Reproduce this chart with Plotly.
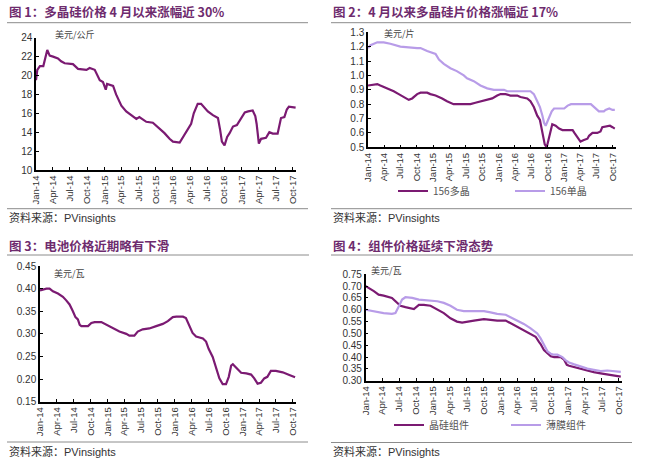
import plotly.graph_objects as go

W, H = 648, 473

# ---------------- data ----------------
p1_dates = ["2014-01-01", "2014-01-08", "2014-01-22", "2014-02-09", "2014-03-02", "2014-03-15",
            "2014-04-02", "2014-04-28", "2014-05-15", "2014-06-03", "2014-07-17", "2014-08-13",
            "2014-09-27", "2014-10-14", "2014-11-10", "2014-12-07", "2014-12-24", "2015-01-08",
            "2015-01-15", "2015-02-16", "2015-03-04", "2015-04-01", "2015-04-27", "2015-06-02",
            "2015-06-20", "2015-07-06", "2015-08-12", "2015-09-16", "2015-10-21", "2015-11-17",
            "2015-12-14", "2016-01-01", "2016-02-06", "2016-02-23", "2016-03-11", "2016-04-07",
            "2016-04-21", "2016-05-03", "2016-05-12", "2016-05-30", "2016-06-17", "2016-07-05",
            "2016-08-01", "2016-08-28", "2016-09-09", "2016-09-18", "2016-10-02", "2016-10-16",
            "2016-10-29", "2016-11-16", "2016-12-07", "2016-12-31", "2017-01-18", "2017-02-05",
            "2017-03-01", "2017-03-15", "2017-03-22", "2017-04-03", "2017-04-15", "2017-05-11",
            "2017-05-29", "2017-06-16", "2017-07-12", "2017-07-30", "2017-08-17", "2017-08-30",
            "2017-09-10", "2017-10-16"]
p1_vals = [19.5, 20.6, 21.0, 21.0, 22.7, 22.1,
           22.0, 21.8, 21.5, 21.3, 21.2, 20.7,
           20.6, 20.8, 20.6, 19.5, 19.3, 18.5,
           19.1, 18.9, 18.0, 16.8, 16.2, 15.6,
           15.4, 15.6, 15.1, 15.0, 14.4, 13.9,
           13.3, 13.0, 12.9, 13.5, 14.0, 14.9,
           16.0, 16.6, 17.0, 17.0, 16.6, 16.2,
           15.8, 15.5, 14.2, 13.0, 12.6, 13.5,
           13.9, 14.6, 14.75, 15.5, 16.1, 16.2,
           16.3, 15.7, 14.9, 12.8, 13.3, 13.4,
           14.0, 13.85, 13.85, 15.5, 15.6, 16.4,
           16.7, 16.6]

p2_mono_dates = ["2014-01-01", "2014-01-15", "2014-02-22", "2014-03-30", "2014-05-06", "2014-06-03",
                 "2014-07-01", "2014-10-03", "2014-10-22", "2014-11-28", "2015-01-14", "2015-02-02",
                 "2015-03-01", "2015-04-07", "2015-05-13", "2015-06-21", "2015-07-09", "2015-08-16",
                 "2015-09-22", "2015-10-30", "2015-12-06", "2016-02-01", "2016-02-19", "2016-06-28",
                 "2016-07-17", "2016-08-05", "2016-08-20", "2016-09-03", "2016-09-12", "2016-09-21",
                 "2016-10-10", "2016-10-25", "2016-11-07", "2017-01-03", "2017-01-22", "2017-02-10",
                 "2017-06-01", "2017-06-10", "2017-06-28", "2017-07-16", "2017-08-13", "2017-08-22",
                 "2017-09-12", "2017-09-30", "2017-10-13"]
p2_mono_vals = [1.19, 1.21, 1.23, 1.23, 1.22, 1.21,
                1.20, 1.19, 1.19, 1.17, 1.15, 1.11,
                1.08, 1.05, 1.03, 1.00, 0.98, 0.96,
                0.93, 0.91, 0.90, 0.90, 0.89, 0.89,
                0.87, 0.82, 0.78, 0.72, 0.67, 0.65,
                0.70, 0.75, 0.77, 0.77, 0.79, 0.80,
                0.80, 0.79, 0.77, 0.75, 0.75, 0.76,
                0.77, 0.76, 0.76]

p2_multi_dates = ["2014-01-01", "2014-02-04", "2014-02-22", "2014-03-11", "2014-04-18", "2014-05-25",
                  "2014-06-22", "2014-07-19", "2014-08-17", "2014-09-05", "2014-10-03", "2014-10-22",
                  "2014-11-28", "2014-12-16", "2015-01-14", "2015-02-20", "2015-03-19", "2015-04-25",
                  "2015-07-28", "2015-08-25", "2015-09-22", "2015-10-30", "2015-11-27", "2015-12-25",
                  "2016-01-13", "2016-02-10", "2016-03-08", "2016-04-15", "2016-05-03", "2016-06-10",
                  "2016-06-28", "2016-07-17", "2016-08-05", "2016-08-20", "2016-09-03", "2016-09-16",
                  "2016-09-27", "2016-10-13", "2016-10-28", "2016-11-16", "2016-12-05", "2016-12-24",
                  "2017-02-19", "2017-03-01", "2017-03-16", "2017-04-04", "2017-04-23", "2017-05-13",
                  "2017-05-22", "2017-06-10", "2017-07-07", "2017-07-25", "2017-08-04", "2017-09-01",
                  "2017-09-16", "2017-09-30", "2017-10-13"]
p2_multi_vals = [0.93, 0.94, 0.94, 0.93, 0.91, 0.89,
                 0.87, 0.85, 0.83, 0.84, 0.87, 0.88,
                 0.88, 0.87, 0.86, 0.84, 0.82, 0.80,
                 0.80, 0.81, 0.82, 0.83, 0.84, 0.86,
                 0.87, 0.87, 0.86, 0.86, 0.85, 0.84,
                 0.82, 0.78, 0.72, 0.69, 0.60, 0.52,
                 0.50, 0.58, 0.66, 0.65, 0.63, 0.62,
                 0.62, 0.60, 0.57, 0.54, 0.55, 0.56,
                 0.58, 0.60, 0.60, 0.61, 0.64, 0.65,
                 0.65, 0.64, 0.63]

p3_dates = ["2014-01-01", "2014-01-18", "2014-02-05", "2014-02-22", "2014-03-12", "2014-04-08",
            "2014-05-05", "2014-05-23", "2014-06-10", "2014-06-28", "2014-07-12", "2014-07-25",
            "2014-08-04", "2014-08-13", "2014-09-18", "2014-10-06", "2014-10-24", "2014-11-29",
            "2014-12-26", "2015-02-01", "2015-03-07", "2015-04-13", "2015-04-30", "2015-05-27",
            "2015-06-14", "2015-07-11", "2015-08-16", "2015-09-22", "2015-10-28", "2015-11-24",
            "2015-12-21", "2016-01-09", "2016-02-14", "2016-03-01", "2016-03-19", "2016-04-06",
            "2016-04-25", "2016-06-01", "2016-06-18", "2016-07-02", "2016-07-24", "2016-08-11",
            "2016-08-29", "2016-09-16", "2016-10-04", "2016-10-19", "2016-11-01", "2016-11-10",
            "2016-12-01", "2016-12-25", "2017-01-22", "2017-02-17", "2017-03-06", "2017-03-24",
            "2017-04-11", "2017-04-29", "2017-05-16", "2017-06-04", "2017-07-01", "2017-08-07",
            "2017-09-12", "2017-10-13"]
p3_vals = [0.396, 0.398, 0.400, 0.400, 0.394, 0.389,
           0.382, 0.374, 0.365, 0.350, 0.337, 0.332,
           0.320, 0.317, 0.317, 0.324, 0.326, 0.326,
           0.320, 0.312, 0.305, 0.300, 0.296, 0.296,
           0.305, 0.310, 0.312, 0.317, 0.322, 0.328,
           0.337, 0.338, 0.338, 0.335, 0.320, 0.302,
           0.294, 0.290, 0.283, 0.267, 0.249, 0.223,
           0.2015, 0.189, 0.189, 0.205, 0.230, 0.233,
           0.223, 0.214, 0.2125, 0.210, 0.2015, 0.190,
           0.192, 0.2015, 0.205, 0.218, 0.218, 0.215,
           0.209, 0.204]

p4_csi_dates = ["2014-01-01", "2014-01-18", "2014-02-14", "2014-03-12", "2014-04-08", "2014-05-23",
                "2014-06-11", "2014-07-08", "2014-08-04", "2014-09-19", "2014-10-16", "2014-11-12",
                "2014-12-18", "2015-01-24", "2015-02-28", "2015-04-05", "2015-05-10", "2015-06-07",
                "2015-07-04", "2015-08-10", "2015-10-03", "2015-11-08", "2015-12-14", "2016-01-29",
                "2016-02-25", "2016-04-01", "2016-05-06", "2016-06-12", "2016-07-09", "2016-07-27",
                "2016-08-05", "2016-08-23", "2016-09-11", "2016-09-29", "2016-10-17", "2016-11-04",
                "2016-11-22", "2016-12-10", "2016-12-25", "2017-01-06", "2017-02-03", "2017-03-09",
                "2017-04-15", "2017-05-20", "2017-06-26", "2017-08-01", "2017-09-07", "2017-10-13"]
p4_csi_vals = [0.700, 0.693, 0.679, 0.664, 0.660, 0.650,
               0.636, 0.617, 0.611, 0.603, 0.621, 0.621,
               0.617, 0.600, 0.586, 0.564, 0.550, 0.546,
               0.550, 0.554, 0.560, 0.557, 0.554, 0.554,
               0.543, 0.526, 0.514, 0.500, 0.486, 0.464,
               0.455, 0.430, 0.417, 0.403, 0.400, 0.400,
               0.400, 0.389, 0.367, 0.363, 0.357, 0.349,
               0.341, 0.336, 0.331, 0.327, 0.323, 0.317]

p4_tf_dates = ["2014-01-01", "2014-01-27", "2014-03-03", "2014-04-08", "2014-05-23", "2014-06-11",
               "2014-06-29", "2014-07-17", "2014-08-04", "2014-09-10", "2014-10-16", "2014-11-30",
               "2015-01-24", "2015-02-28", "2015-04-05", "2015-05-10", "2015-06-16", "2015-08-10",
               "2015-10-03", "2015-11-08", "2015-12-14", "2016-01-29", "2016-02-25", "2016-04-01",
               "2016-05-06", "2016-06-12", "2016-07-18", "2016-08-05", "2016-08-23", "2016-09-11",
               "2016-09-29", "2016-10-17", "2016-11-04", "2016-12-01", "2016-12-19", "2017-01-06",
               "2017-02-03", "2017-03-09", "2017-04-15", "2017-05-20", "2017-06-26", "2017-08-01",
               "2017-09-07", "2017-10-13"]
p4_tf_vals = [0.600, 0.596, 0.589, 0.586, 0.583, 0.586,
              0.614, 0.643, 0.653, 0.650, 0.643, 0.641,
              0.636, 0.629, 0.617, 0.600, 0.594, 0.594,
              0.594, 0.589, 0.583, 0.579, 0.569, 0.554,
              0.540, 0.521, 0.500, 0.479, 0.453, 0.424,
              0.414, 0.410, 0.410, 0.400, 0.386, 0.377,
              0.369, 0.360, 0.351, 0.346, 0.341, 0.343,
              0.340, 0.337]

titles = ["图 1：多晶硅价格 4 月以来涨幅近 30%",
          "图 2：4 月以来多晶硅片价格涨幅近 17%",
          "图 3：电池价格近期略有下滑",
          "图 4：组件价格延续下滑态势"]
units = ["美元/公斤", "美元/片", "美元/瓦", "美元/瓦"]
source_cn = "资料来源："
source_en = "PVinsights"
names2 = ["156多晶", "156单晶"]
names4 = ["晶硅组件", "薄膜组件"]

y_ranges = [[10, 24], [0.5, 1.3], [0.15, 0.45], [0.30, 0.75]]
y_dticks = [2, 0.1, 0.05, 0.05]
y_formats = ["d", ".1f", ".2f", ".2f"]

# ---------------- style ----------------
DARK = "#7B1A72"
LIGHT = "#B89CE8"
TITLE_C = "#6E2B6E"
CJK = "Noto Sans CJK SC"
LAT = "Liberation Sans, Arial"


def px(x):
    return x / W


def py(y):
    return 1 - y / H


# plot areas in pixels: (left, right, top, bottom)
areas = [(36, 296, 37.7, 170), (368, 615.7, 32.3, 147.3),
         (40, 296, 266, 401.7), (365.7, 621.7, 274.3, 380.7)]

fig = go.Figure()

fig.add_trace(go.Scatter(x=p1_dates, y=p1_vals, mode="lines", line=dict(color=DARK, width=2.2),
                         xaxis="x", yaxis="y", showlegend=False, hoverinfo="skip"))
fig.add_trace(go.Scatter(x=p2_multi_dates, y=p2_multi_vals, mode="lines", name=names2[0],
                         line=dict(color=DARK, width=2.2), xaxis="x2", yaxis="y2", legend="legend",
                         hoverinfo="skip"))
fig.add_trace(go.Scatter(x=p2_mono_dates, y=p2_mono_vals, mode="lines", name=names2[1],
                         line=dict(color=LIGHT, width=2.2), xaxis="x2", yaxis="y2", legend="legend",
                         hoverinfo="skip"))
fig.add_trace(go.Scatter(x=p3_dates, y=p3_vals, mode="lines", line=dict(color=DARK, width=2.2),
                         xaxis="x3", yaxis="y3", showlegend=False, hoverinfo="skip"))
fig.add_trace(go.Scatter(x=p4_csi_dates, y=p4_csi_vals, mode="lines", name=names4[0],
                         line=dict(color=DARK, width=2.2), xaxis="x4", yaxis="y4", legend="legend2",
                         hoverinfo="skip"))
fig.add_trace(go.Scatter(x=p4_tf_dates, y=p4_tf_vals, mode="lines", name=names4[1],
                         line=dict(color=LIGHT, width=2.2), xaxis="x4", yaxis="y4", legend="legend2",
                         hoverinfo="skip"))

layout = dict(
    width=W, height=H, margin=dict(l=0, r=0, t=0, b=0, autoexpand=False),
    paper_bgcolor="white", plot_bgcolor="white",
    font=dict(family=LAT, size=10, color="#333333"),
)

for i, (l, r, t, b) in enumerate(areas):
    sfx = "" if i == 0 else str(i + 1)
    layout["xaxis" + sfx] = dict(
        domain=[px(l), px(r)], anchor="y" + sfx, type="date", automargin=False,
        range=["2014-01-01", "2017-10-18"], tickformat="%b-%y", dtick="M3",
        tick0="2014-01-01", tickangle=-90, ticks="inside", ticklen=3, tickcolor="#000",
        showline=True, linecolor="#000", linewidth=1.5, showgrid=False, zeroline=False,
        tickfont=dict(family=LAT, size=9.5, color="#333"), fixedrange=True)
    layout["yaxis" + sfx] = dict(
        domain=[py(b), py(t)], anchor="x" + sfx, range=y_ranges[i], dtick=y_dticks[i],
        tick0=y_ranges[i][0], tickformat=y_formats[i], ticks="inside", ticklen=3,
        automargin=False,
        tickcolor="#000", showline=True, linecolor="#000", linewidth=1.5, showgrid=False,
        zeroline=False, tickfont=dict(family=LAT, size=10, color="#333"), fixedrange=True)

layout["legend"] = dict(orientation="h", x=px(393), y=py(191), xanchor="left", yanchor="middle",
                        font=dict(family=CJK, size=10, color="#555"), entrywidth=72,
                        bgcolor="rgba(0,0,0,0)", itemwidth=30, tracegroupgap=0)
layout["legend2"] = dict(orientation="h", x=px(389), y=py(425), xanchor="left", yanchor="middle",
                         font=dict(family=CJK, size=10, color="#555"), entrywidth=72,
                         bgcolor="rgba(0,0,0,0)", itemwidth=30, tracegroupgap=0)

annotations = []
shapes = []
title_pos = [(7, 12), (331, 12), (7, 245), (331, 245)]
sep_pos = [(7, 308, 22.7), (331, 631, 22.7), (7, 309, 255), (331, 633, 255)]
src_pos = [(7, 217, 208.7), (331, 217, 208.7), (7, 451, 442), (331, 451, 442.5)]
unit_pos = [(53, 35), (382, 33), (52, 273), (369, 270)]

for i in range(4):
    tx, ty = title_pos[i]
    annotations.append(dict(x=px(tx), y=py(ty), xref="paper", yref="paper", xanchor="left",
                            yanchor="middle", showarrow=False, text="<b>" + titles[i] + "</b>",
                            font=dict(family=CJK, size=12.5, color=TITLE_C)))
    x0, x1, sy = sep_pos[i]
    shapes.append(dict(type="line", xref="paper", yref="paper", x0=px(x0), x1=px(x1),
                       y0=py(sy), y1=py(sy), line=dict(color="#8c8c8c", width=1)))
    sx, sty, sly = src_pos[i]
    shapes.append(dict(type="line", xref="paper", yref="paper", x0=px(sx), x1=px(sx + 301),
                       y0=py(sly), y1=py(sly), line=dict(color="#8c8c8c", width=1)))
    annotations.append(dict(x=px(sx), y=py(sty), xref="paper", yref="paper", xanchor="left",
                            yanchor="middle", showarrow=False,
                            text=source_cn + "<span style='font-family:Liberation Sans, Arial'>"
                                 + source_en + "</span>",
                            font=dict(family=CJK, size=11, color="#333")))
    ux, uy = unit_pos[i]
    annotations.append(dict(x=px(ux), y=py(uy), xref="paper", yref="paper", xanchor="left",
                            yanchor="middle", showarrow=False, text=units[i],
                            font=dict(family=CJK, size=9, color="#444")))

layout["annotations"] = annotations
layout["shapes"] = shapes
layout["hovermode"] = False
fig.update_layout(**layout)

fig.write_html("out.html", config={"displayModeBar": False},
               post_script="document.body.style.margin='0';")
